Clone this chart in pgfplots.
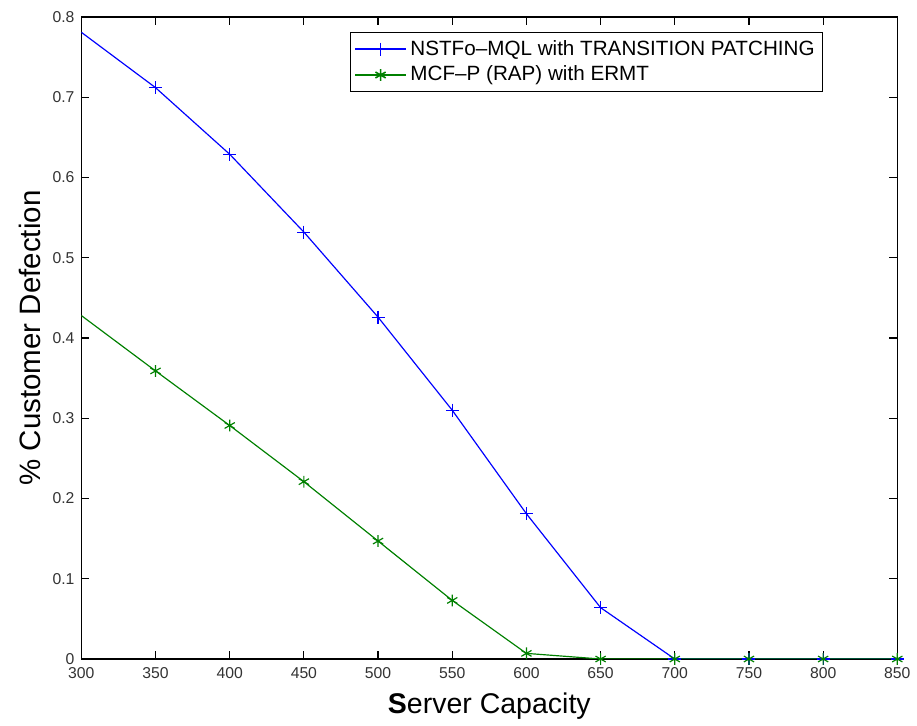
\documentclass[border=0pt]{standalone}
\usepackage{pgfplots}
\pgfplotsset{compat=1.18}
\usepackage{fontspec}
\setmainfont{Liberation Sans}
\begin{document}
\begin{tikzpicture}
\begin{axis}[
  scale only axis,
  width=415pt, height=326.5pt,
  xmin=300, xmax=850, ymin=0, ymax=0.8,
  xtick={300,350,...,850},
  ytick={0,0.1,...,0.8},
  yticklabel style={/pgf/number format/fixed, /pgf/number format/precision=1},
  /pgf/number format/assume math mode=true,
  tick align=inside,
  major tick length=4pt,
  tick style={black, line width=0.6pt},
  axis line style={black, line width=0.8pt},
  ticklabel style={font=\fontsize{8}{9}\selectfont, text=black!80},
  xticklabel style={yshift=-1pt},
  xlabel={\textbf{S}erver Capacity},
  ylabel={\% Customer Defection},
  xlabel style={font=\fontsize{14.5}{15}\selectfont, yshift=0pt},
  ylabel style={font=\fontsize{15}{16}\selectfont, yshift=-1pt},
  legend style={at={(0.909,0.977)}, anchor=north east, draw=black, line width=0.6pt,
    font=\fontsize{10.5}{11}\selectfont, row sep=0pt, inner sep=2pt},
  legend cell align=left,
  legend image code/.code={\draw[mark repeat=2,mark phase=2] plot coordinates {(0cm,0cm)(0.45cm,0cm)(0.9cm,0cm)};},
  legend image post style={line width=0.8pt},
  every axis plot/.append style={line width=0.6pt},
]
\addplot[blue, mark=+, mark size=3.3pt, mark phase=2, mark repeat=1] coordinates {
(300,0.781) (350,0.712) (400,0.629) (450,0.532) (500,0.426) (550,0.310)
(600,0.181) (650,0.064) (700,0.0) (750,0.0) (800,0.0) (850,0.0)};
\addlegendentry{NSTFo--MQL with TRANSITION PATCHING}
\addplot[green!50!black, mark=asterisk, mark size=3pt, mark phase=2, mark repeat=1] coordinates {
(300,0.428) (350,0.359) (400,0.291) (450,0.221) (500,0.147) (550,0.073)
(600,0.007) (650,0.0) (700,0.0) (750,0.0) (800,0.0) (850,0.0)};
\addlegendentry{MCF--P (RAP) with ERMT}
\end{axis}
\path (current bounding box.south west) ++(-6.5pt,0) coordinate (a);
\path (current bounding box.north west) ++(0,2.5pt) coordinate (b);
\path (a) (b);
\end{tikzpicture}
\end{document}
